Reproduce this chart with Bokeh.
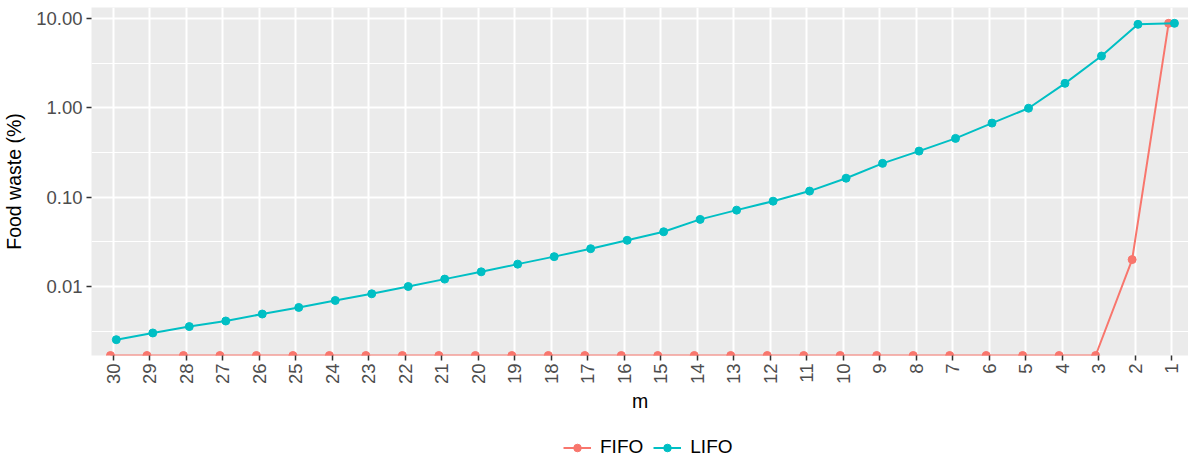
import math
from bokeh.plotting import figure
from bokeh.layouts import column
from bokeh.models import (Range1d, FixedTicker, ColumnDataSource, Legend, LegendItem)
from bokeh.embed import file_html
from bokeh.resources import INLINE

# ---- data ----
m_values = list(range(30, 0, -1))
lifo = [0.00254, 0.00302, 0.00356, 0.00411, 0.00492, 0.00583, 0.00698, 0.00829,
        0.0100, 0.0121, 0.0146, 0.0178, 0.0216, 0.0265, 0.0329, 0.0410, 0.0564,
        0.0716, 0.0902, 0.117, 0.163, 0.239, 0.328, 0.455, 0.675, 0.99, 1.88,
        3.80, 8.6, 8.83]
fifo = [0] * 28 + [0.020, 8.83]
series_names = ["FIFO", "LIFO"]
series_colors = ["#F8766D", "#00BFC4"]
y_ticks = [0.01, 0.1, 1, 10]
y_tick_labels = ["0.01", "0.10", "1.00", "10.00"]
y_minor = [10 ** -2.5, 10 ** -1.5, 10 ** -0.5, 10 ** 0.5]

FONT = "Liberation Sans"

# log-scale range with 5% expansion like ggplot
pos = [v for v in lifo + fifo if v > 0]
lmin, lmax = math.log10(min(pos)), math.log10(max(pos))
span = lmax - lmin
y_lo = 10 ** (lmin - 0.05 * span)
y_hi = 10 ** (lmax + 0.05 * span)

idx = list(range(len(m_values)))
dodge = 0.08

p = figure(width=1188, height=415, output_backend="svg", toolbar_location=None,
           y_axis_type="log",
           x_range=Range1d(-0.6, 29.465), y_range=Range1d(y_lo, y_hi),
           min_border_left=88, min_border_right=0, min_border_top=7,
           min_border_bottom=60)
p.background_fill_color = "#EBEBEB"
p.border_fill_color = "white"
p.outline_line_color = None

# axes
p.xaxis.ticker = FixedTicker(ticks=idx)
p.xaxis.major_label_overrides = {i: str(mv) for i, mv in zip(idx, m_values)}
p.xaxis.major_label_orientation = math.pi / 2
p.yaxis.ticker = FixedTicker(ticks=y_ticks, minor_ticks=y_minor)
p.yaxis.major_label_overrides = {t: l for t, l in zip(y_ticks, y_tick_labels)}
p.ygrid.ticker = FixedTicker(ticks=y_ticks, minor_ticks=y_minor)
p.xgrid.ticker = FixedTicker(ticks=idx)

for ax in (p.xaxis, p.yaxis):
    ax.axis_line_color = None
    ax.major_tick_line_color = "#333333"
    ax.major_tick_line_width = 1.5
    ax.major_tick_out = 5
    ax.major_tick_in = 0
    ax.minor_tick_line_color = None
    ax.major_label_text_font = FONT
    ax.major_label_text_font_size = "18.5px"
    ax.major_label_text_color = "#4D4D4D"
    ax.axis_label_text_font = FONT
    ax.axis_label_text_font_size = "19.5px"
    ax.axis_label_text_font_style = "normal"
    ax.axis_label_text_color = "black"
p.xaxis.major_label_standoff = 3
p.yaxis.major_label_standoff = 4
p.xaxis.axis_label = "m"
p.yaxis.axis_label = "Food waste (%)"
p.xaxis.axis_label_standoff = 3
p.yaxis.axis_label_standoff = 8

p.grid.grid_line_color = "white"
p.grid.grid_line_width = 2
p.ygrid.minor_grid_line_color = "white"
p.ygrid.minor_grid_line_width = 1

# data renderers
fifo_plot = [v if v > 0 else y_lo for v in fifo]
src_f = ColumnDataSource(dict(x=[i - dodge for i in idx], y=fifo_plot))
src_l = ColumnDataSource(dict(x=[i + dodge for i in idx], y=lifo))
sources = [src_f, src_l]

for src, col in zip(sources, series_colors):
    p.line("x", "y", source=src, line_color=col, line_width=2)
    p.scatter("x", "y", source=src, size=8, fill_color=col, line_color=col)

# legend strip below the plot (its renderers sit outside its visible range)
pl = figure(width=1188, height=45, output_backend="svg", toolbar_location=None,
            x_range=Range1d(1000, 1001), y_range=Range1d(1000, 1001),
            x_axis_location=None, y_axis_location=None,
            min_border_left=0, min_border_right=0,
            min_border_top=0, min_border_bottom=0)
pl.grid.visible = False
pl.outline_line_color = None
pl.background_fill_color = "white"
items = []
for name, src, col in zip(series_names, sources, series_colors):
    r1 = pl.line("x", "y", source=src, line_color=col, line_width=2)
    r2 = pl.scatter("x", "y", source=src, size=8, fill_color=col, line_color=col)
    items.append(LegendItem(label=name, renderers=[r1, r2]))
legend = Legend(items=items, orientation="horizontal", location=(472, 2),
                glyph_width=28, glyph_height=19, label_standoff=9, spacing=10,
                padding=0, margin=0,
                label_text_font=FONT, label_text_font_size="19px",
                label_text_color="black",
                background_fill_alpha=0, border_line_color=None)
pl.add_layout(legend, "center")

layout = column(p, pl, spacing=0)
open("out.html", "w").write(file_html(layout, INLINE))
